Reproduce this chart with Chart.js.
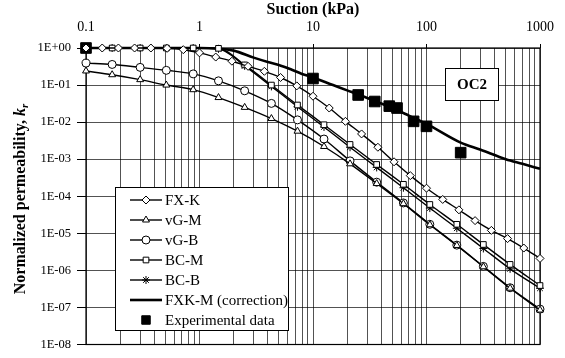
<!DOCTYPE html>
<html>
<head>
<meta charset="utf-8">
<script src="https://cdn.jsdelivr.net/npm/chart.js@4.4.0/dist/chart.umd.min.js"></script>
<style>
  html, body { margin: 0; padding: 0; background: #fff; }
  #wrap { width: 565px; height: 358px; }
</style>
</head>
<body>
<div id="wrap"><canvas id="myChart" width="565" height="358"></canvas></div>
<script>
// suction (kPa) and normalized permeability
const suctionFxk = [0.1, 0.139, 0.193, 0.268, 0.373, 0.518, 0.72, 1, 1.39, 1.93, 2.68, 3.73, 5.18, 7.2, 10, 13.9, 19.3, 26.8, 37.3, 51.8, 72, 100, 139, 193, 268, 373, 518, 720, 1000];
const krFxk = [1, 1, 1, 1, 1, 0.98, 0.9, 0.74, 0.57, 0.44, 0.32, 0.235, 0.16, 0.095, 0.05, 0.024, 0.0105, 0.0048, 0.0021, 0.00085, 0.00036, 0.000165, 0.000082, 0.000043, 0.000022, 0.000012, 0.0000072, 0.000004, 0.0000021];

const suctionVg = [0.1, 0.17, 0.3, 0.51, 0.88, 1.47, 2.5, 4.3, 7.3, 12.5, 21.2, 36.4, 62.6, 107, 185, 317, 545, 1000];
const krVgM = [0.24, 0.19, 0.14, 0.1, 0.075, 0.046, 0.025, 0.0125, 0.0057, 0.0022, 0.00075, 0.00022, 0.000063, 0.000017, 0.0000047, 0.00000125, 0.00000033, 0.000000085];
const krVgB = [0.39, 0.36, 0.3, 0.25, 0.2, 0.13, 0.07, 0.032, 0.0115, 0.0035, 0.0009, 0.00024, 0.000066, 0.0000175, 0.0000048, 0.00000128, 0.00000034, 0.00000009];
const krBcM = [1, 1, 1, 1, 1, 0.98, 0.35, 0.1, 0.029, 0.0085, 0.0025, 0.00072, 0.00021, 0.00006, 0.0000175, 0.000005, 0.00000145, 0.00000039];
const krBcB = [1, 1, 1, 1, 1, 0.95, 0.33, 0.092, 0.026, 0.0074, 0.0021, 0.0006, 0.00017, 0.000048, 0.0000137, 0.0000039, 0.0000011, 0.00000033];

const suctionFxkm = [0.1, 0.5, 1, 1.5, 2, 3, 4, 5, 6.3, 8, 10, 15, 20, 30, 50, 70, 100, 200, 300, 500, 700, 1000];
const krFxkm = [1, 1, 1, 0.95, 0.85, 0.55, 0.42, 0.35, 0.27, 0.2, 0.16, 0.1, 0.072, 0.045, 0.024, 0.015, 0.009, 0.0028, 0.0018, 0.001, 0.00075, 0.00055];

const suctionExp = [0.1, 10, 25, 35, 47, 55, 77, 100, 200];
const krExp = [1, 0.15, 0.054, 0.036, 0.027, 0.024, 0.0105, 0.0077, 0.0015];

const xTicks = [0.1, 1, 10, 100, 1000];
const xTickLabels = ['0.1', '1', '10', '100', '1000'];
const yTicks = [1, 1e-1, 1e-2, 1e-3, 1e-4, 1e-5, 1e-6, 1e-7, 1e-8];
const yTickLabels = ['1E+00', '1E-01', '1E-02', '1E-03', '1E-04', '1E-05', '1E-06', '1E-07', '1E-08'];

const serif = "'Liberation Serif', 'Times New Roman', serif";
const gridColor = 'rgba(0,0,0,0.68)';

function toPoints(xs, ys) {
  return xs.map((x, i) => ({ x: x, y: ys[i] }));
}

function isDecade(v) {
  const l = Math.log10(v);
  return Math.abs(l - Math.round(l)) < 1e-9;
}

function curve(label, xs, ys, style, width) {
  return {
    label: label,
    data: toPoints(xs, ys),
    borderColor: '#000',
    borderWidth: width,
    pointStyle: style,
    pointRadius: style ? 4 : 0,
    pointBackgroundColor: '#fff',
    pointBorderColor: '#000',
    pointBorderWidth: 1,
    cubicInterpolationMode: 'monotone',
    clip: false
  };
}

const datasets = [
  curve('FX-K', suctionFxk, krFxk, 'rectRot', 1.4),
  curve('vG-M', suctionVg, krVgM, 'triangle', 1.4),
  curve('vG-B', suctionVg, krVgB, 'circle', 1.4),
  curve('BC-M', suctionVg, krBcM, 'rect', 1.4),
  curve('BC-B', suctionVg, krBcB, 'star', 1.4),
  curve('FXK-M (correction)', suctionFxkm, krFxkm, false, 2.6),
  {
    label: 'Experimental data',
    data: toPoints(suctionExp, krExp),
    showLine: false,
    pointStyle: 'rect',
    pointRadius: 7.5,
    pointBackgroundColor: '#000',
    pointBorderColor: '#000',
    clip: false
  }
];

// frame round the plot area
const frame = {
  id: 'frame',
  beforeDatasetsDraw(chart) {
    const a = chart.chartArea, ctx = chart.ctx;
    ctx.save();
    ctx.strokeStyle = '#000';
    ctx.lineWidth = 1.2;
    ctx.strokeRect(a.left, a.top, a.right - a.left, a.bottom - a.top);
    ctx.restore();
  }
};

function marker(ctx, style, x, y, r, fill) {
  ctx.save();
  ctx.fillStyle = fill;
  ctx.strokeStyle = '#000';
  ctx.lineWidth = 1;
  Chart.helpers.drawPoint(ctx, { pointStyle: style, radius: r, rotation: 0, borderWidth: 1 }, x, y);
  ctx.restore();
}

// legend box, sample box and y title drawn by hand
const extras = {
  id: 'extras',
  afterDraw(chart) {
    const ctx = chart.ctx;
    ctx.save();

    // legend
    const lx = 115, ly = 187, lw = 173, lh = 143;
    ctx.fillStyle = '#fff';
    ctx.fillRect(lx, ly, lw, lh);
    ctx.strokeStyle = '#000';
    ctx.lineWidth = 1;
    ctx.strokeRect(lx + 0.5, ly + 0.5, lw, lh);
    ctx.font = '15px ' + serif;
    ctx.textBaseline = 'middle';
    chart.data.datasets.forEach((ds, i) => {
      const y = ly + 13 + i * 20;
      if (ds.showLine !== false) {
        ctx.strokeStyle = '#000';
        ctx.lineWidth = ds.borderWidth;
        ctx.beginPath();
        ctx.moveTo(130, y);
        ctx.lineTo(162, y);
        ctx.stroke();
        if (ds.pointStyle) marker(ctx, ds.pointStyle, 146, y, 4, '#fff');
      } else {
        marker(ctx, 'rect', 146, y, 6, '#000');
      }
      ctx.fillStyle = '#000';
      ctx.textAlign = 'left';
      ctx.fillText(ds.label, 165, y + 1);
    });

    // sample name box
    ctx.fillStyle = '#fff';
    ctx.fillRect(445, 68, 53, 32);
    ctx.strokeStyle = '#000';
    ctx.lineWidth = 1;
    ctx.strokeRect(445.5, 68.5, 53, 32);
    ctx.fillStyle = '#000';
    ctx.font = 'bold 15px ' + serif;
    ctx.textAlign = 'center';
    ctx.fillText('OC2', 472, 85);

    // y axis title with italic k and subscript r
    const main = 'Normalized permeability, ';
    const fMain = 'bold 16px ' + serif;
    const fK = 'italic bold 16px ' + serif;
    const fR = 'italic bold 11px ' + serif;
    ctx.font = fMain; const w1 = ctx.measureText(main).width;
    ctx.font = fK; const w2 = ctx.measureText('k').width;
    ctx.font = fR; const w3 = ctx.measureText('r').width;
    const total = w1 + w2 + w3;
    ctx.translate(21, 199);
    ctx.rotate(-Math.PI / 2);
    ctx.textAlign = 'left';
    ctx.textBaseline = 'middle';
    let x0 = -total / 2;
    ctx.font = fMain; ctx.fillText(main, x0, 0);
    ctx.font = fK; ctx.fillText('k', x0 + w1, 0);
    ctx.font = fR; ctx.fillText('r', x0 + w1 + w2, 4);
    ctx.restore();
  }
};

const ctx = document.getElementById('myChart').getContext('2d');
const myChart = new Chart(ctx, {
  type: 'line',
  data: { datasets: datasets },
  options: {
    responsive: false,
    animation: false,
    events: [],
    layout: { padding: { left: 0, right: 25, top: 0, bottom: 13 } },
    plugins: { legend: { display: false }, tooltip: { enabled: false } },
    scales: {
      x: {
        type: 'logarithmic',
        position: 'top',
        min: 0.1,
        max: 1000,
        afterBuildTicks(scale) {
          const t = [];
          for (let d = 0; d < xTicks.length - 1; d++) {
            for (let m = 1; m < 10; m++) t.push({ value: m * xTicks[d] });
          }
          t.push({ value: xTicks[xTicks.length - 1] });
          scale.ticks = t;
        },
        afterFit(scale) { scale.height = 48; },
        ticks: {
          autoSkip: false,
          maxRotation: 0,
          padding: 8,
          color: '#000',
          font: { family: serif, size: 14 },
          callback(v) {
            const i = xTicks.findIndex(t => Math.abs(t - v) < 1e-9 * t);
            return i >= 0 ? xTickLabels[i] : '';
          }
        },
        grid: {
          color: gridColor,
          lineWidth: 1,
          tickLength: 4,
          tickColor(c) { return c.tick && isDecade(c.tick.value) ? '#000' : 'rgba(0,0,0,0)'; }
        },
        border: { display: false },
        title: {
          display: true,
          text: 'Suction (kPa)',
          color: '#000',
          font: { family: serif, size: 16, weight: 'bold' },
          padding: { top: 0, bottom: 0 }
        }
      },
      y: {
        type: 'logarithmic',
        min: 1e-8,
        max: 1,
        afterBuildTicks(scale) {
          scale.ticks = yTicks.map(v => ({ value: v }));
        },
        afterFit(scale) { scale.width = 86; },
        ticks: {
          color: '#000',
          padding: 6,
          font: { family: serif, size: 12.5 },
          callback(v) {
            const i = yTicks.findIndex(t => Math.abs(t - v) < 1e-9 * t);
            return i >= 0 ? yTickLabels[i] : '';
          }
        },
        grid: { color: gridColor, lineWidth: 1, tickLength: 9, tickColor: '#000' },
        border: { display: false }
      }
    }
  },
  plugins: [frame, extras]
});
</script>
</body>
</html>
